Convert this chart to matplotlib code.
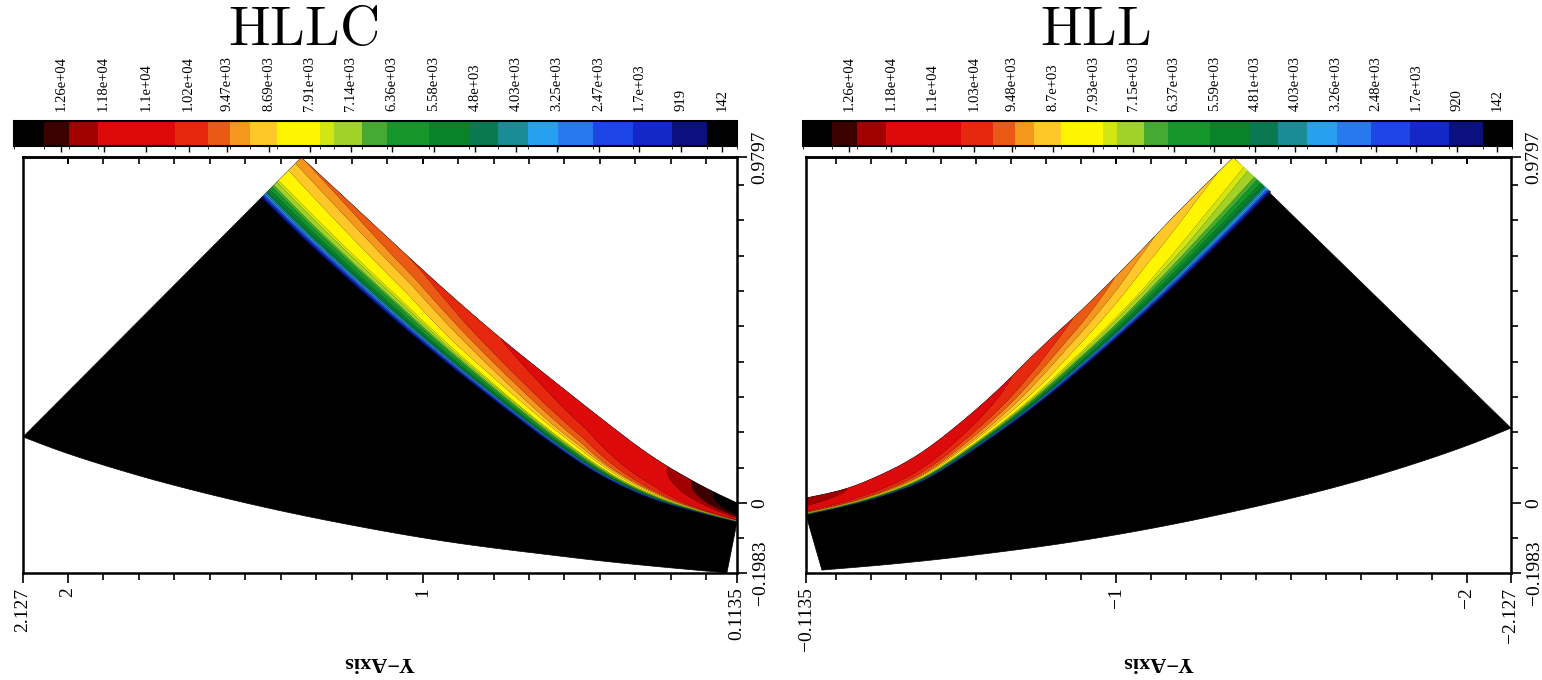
import numpy as np
import matplotlib.pyplot as plt
from matplotlib.colors import ListedColormap, BoundaryNorm
from matplotlib.cm import ScalarMappable

plt.rcParams['font.family'] = ['Liberation Serif', 'DejaVu Serif']
plt.rcParams['mathtext.fontset'] = 'cm'

# contour band edges (low -> high) and the colour of each band
levels = [-140, 422, 1078, 1827, 2577, 3232, 3795, 4357, 4919, 5668, 6464, 6933,
          7448, 7729, 8525, 9041, 9415, 9837, 10446, 11898, 12460, 12928, 13490]
band_colors = ['#000000', '#0a1080', '#1428c8', '#1e46e6', '#2878f0', '#28a0f0',
               '#1a8c96', '#0a7850', '#0a8228', '#14962a', '#46aa32', '#a0d228',
               '#d2e614', '#fff500', '#ffc828', '#f5961e', '#eb5a14', '#e6280f',
               '#dc0a0a', '#a00000', '#3c0000', '#000000']

cbar_values = [12600, 11800, 11000, 10200, 9470, 8690, 7910, 7140, 6360, 5580,
               4800, 4030, 3250, 2470, 1700, 919, 142]
hllc_cbar_labels = ['1.26e+04', '1.18e+04', '1.1e+04', '1.02e+04', '9.47e+03',
                    '8.69e+03', '7.91e+03', '7.14e+03', '6.36e+03', '5.58e+03',
                    '4.8e+03', '4.03e+03', '3.25e+03', '2.47e+03', '1.7e+03', '919', '142']
hll_cbar_labels = ['1.26e+04', '1.18e+04', '1.1e+04', '1.03e+04', '9.48e+03',
                   '8.7e+03', '7.93e+03', '7.15e+03', '6.37e+03', '5.59e+03',
                   '4.81e+03', '4.03e+03', '3.26e+03', '2.48e+03', '1.7e+03', '920', '142']

# HLLC geometry (data units): hot wall edge, inner edge of the layer, far boundary
hllc_wall_x = [1.342, 1.201, 1.059, 0.917, 0.776, 0.634, 0.492, 0.351, 0.209, 0.1135]
hllc_wall_y = [0.978, 0.847, 0.714, 0.584, 0.462, 0.348, 0.235, 0.127, 0.045, 0.0]
hllc_edge_x = [1.456, 1.342, 1.201, 1.059, 0.917, 0.776, 0.634, 0.492, 0.351, 0.209, 0.1135]
hllc_edge_y = [0.864, 0.751, 0.623, 0.499, 0.382, 0.272, 0.164, 0.071, 0.008, -0.031, -0.054]
hllc_far_x = [2.127, 2.023, 1.910, 1.769, 1.628, 1.487, 1.346, 1.205, 1.064, 0.923,
              0.782, 0.641, 0.500, 0.331, 0.142]
hllc_far_y = [0.187, 0.147, 0.110, 0.068, 0.031, -0.003, -0.034, -0.062, -0.088, -0.111,
              -0.130, -0.147, -0.164, -0.181, -0.198]
# value on the wall and profile stretching, along the wall (0 = apex)
hllc_s = [0.0, 0.3, 0.5, 0.7, 0.85, 0.95, 1.0]
hllc_wall_val = [9400, 9900, 10500, 11000, 11800, 12900, 13400]
hllc_stretch = [1.0, 1.1, 1.3, 1.7, 2.4, 3.5, 4.2]

# HLL geometry
hll_wall_x = [-1.334, -1.201, -1.060, -0.918, -0.776, -0.649, -0.507, -0.414, -0.317, -0.224, -0.1135]
hll_wall_y = [0.978, 0.850, 0.703, 0.561, 0.433, 0.306, 0.187, 0.122, 0.074, 0.037, 0.014]
hll_edge_x = [-1.442, -1.329, -1.187, -1.046, -0.904, -0.776, -0.649, -0.507, -0.414, -0.272, -0.1135]
hll_edge_y = [0.881, 0.768, 0.632, 0.504, 0.382, 0.278, 0.187, 0.093, 0.045, 0.0, -0.034]
hll_far_x = [-2.127, -2.023, -1.910, -1.769, -1.628, -1.487, -1.346, -1.205, -1.064, -0.923,
             -0.782, -0.641, -0.500, -0.331, -0.159]
hll_far_y = [0.212, 0.170, 0.130, 0.085, 0.045, 0.010, -0.022, -0.052, -0.079, -0.103,
             -0.124, -0.142, -0.159, -0.176, -0.190]
hll_s = [0.0, 0.25, 0.45, 0.7, 0.9, 1.0]
hll_wall_val = [8400, 9200, 10000, 11000, 11800, 12200]
hll_stretch = [1.0, 1.1, 1.3, 1.8, 2.6, 3.2]

# normalised profile across the layer (0 = wall, 1 = inner edge)
prof_eta = [0.0, 0.15, 0.55, 0.7, 0.82, 0.9, 0.96, 1.0]
prof_g = [1.0, 0.96, 0.83, 0.72, 0.55, 0.38, 0.12, 0.0]

cmap = ListedColormap(band_colors)
norm = BoundaryNorm(levels, cmap.N)


def smooth(x, y, passes=2):
    # corner cutting, keeps both end points
    x, y = np.asarray(x, float), np.asarray(y, float)
    for _ in range(passes):
        qx = 0.75 * x[:-1] + 0.25 * x[1:]
        qy = 0.75 * y[:-1] + 0.25 * y[1:]
        rx = 0.25 * x[:-1] + 0.75 * x[1:]
        ry = 0.25 * y[:-1] + 0.75 * y[1:]
        x = np.concatenate([[x[0]], np.column_stack([qx, rx]).ravel()[1:-1], [x[-1]]])
        y = np.concatenate([[y[0]], np.column_stack([qy, ry]).ravel()[1:-1], [y[-1]]])
    return x, y


def resample(x, y, n):
    x, y = smooth(x, y)
    d = np.hypot(np.diff(x), np.diff(y))
    t = np.concatenate([[0], np.cumsum(d)]) / d.sum()
    u = np.linspace(0, 1, n)
    return np.interp(u, t, x), np.interp(u, t, y)


def panel(ax, cax, wall_x, wall_y, edge_x, edge_y, far_x, far_y, s_pts, wall_val, stretch):
    ns, ne = 400, 140
    wx, wy = resample(wall_x, wall_y, ns)
    ex, ey = resample(edge_x, edge_y, ns)
    fx, fy = resample(far_x, far_y, 200)

    # black domain
    px = np.concatenate([[fx[0]], wx, [ex[-1]], fx[::-1]])
    py = np.concatenate([[fy[0]], wy, [ey[-1]], fy[::-1]])
    ax.fill(px, py, color='black', lw=0.5, zorder=1)

    # shock layer
    s = np.linspace(0, 1, ns)
    eta = np.linspace(0, 1, ne)
    X = wx[:, None] + eta[None, :] * (ex - wx)[:, None]
    Y = wy[:, None] + eta[None, :] * (ey - wy)[:, None]
    tw = np.interp(s, s_pts, wall_val)
    a = np.interp(s, s_pts, stretch)
    g = np.interp(eta[None, :] ** a[:, None], prof_eta, prof_g)
    Z = 142 + (tw[:, None] - 142) * g
    ax.contourf(X, Y, Z, levels=levels, colors=band_colors, zorder=2, antialiased=True)

    # colour bar
    cb = plt.colorbar(ScalarMappable(norm=norm, cmap=cmap), cax=cax,
                      orientation='horizontal', spacing='proportional')
    cax.invert_xaxis()
    cb.outline.set_linewidth(1.5)
    return cb


fig = plt.figure(figsize=(15.42, 6.8), dpi=100)
W, H = 1542, 680


def frac(x0, y0, x1, y1):
    return [x0 / W, 1 - y1 / H, (x1 - x0) / W, (y1 - y0) / H]


panels = [
    dict(title=r'$\mathrm{HLLC}$', tx=303, lx=379, ax=frac(23, 157, 737, 573), cax=frac(14, 121, 737, 146),
         wall=(hllc_wall_x, hllc_wall_y), edge=(hllc_edge_x, hllc_edge_y), far=(hllc_far_x, hllc_far_y),
         s=hllc_s, val=hllc_wall_val, st=hllc_stretch, labels=hllc_cbar_labels,
         xlim=(2.127, 0.1135), xt=[2.127, 2, 1, 0.1135], xtl=['2.127', '2', '1', '0.1135']),
    dict(title=r'$\mathrm{HLL}$', tx=1095, lx=1158, ax=frac(806, 157, 1511, 573), cax=frac(803, 121, 1512, 146),
         wall=(hll_wall_x, hll_wall_y), edge=(hll_edge_x, hll_edge_y), far=(hll_far_x, hll_far_y),
         s=hll_s, val=hll_wall_val, st=hll_stretch, labels=hll_cbar_labels,
         xlim=(-0.1135, -2.127), xt=[-0.1135, -1, -2, -2.127],
         xtl=['\u22120.1135', '\u22121', '\u22122', '\u22122.127']),
]

for p in panels:
    ax = fig.add_axes(p['ax'])
    cax = fig.add_axes(p['cax'])
    panel(ax, cax, *p['wall'], *p['edge'], *p['far'], p['s'], p['val'], p['st'])

    cax.set_xticks(cbar_values)
    cax.set_xticklabels(p['labels'], rotation=90, fontsize=10.5)
    cax.tick_params(axis='x', top=False, bottom=True, labeltop=True, labelbottom=False,
                    direction='out', length=4, width=1, pad=3)

    ax.set_xlim(*p['xlim'])
    ax.set_ylim(-0.1983, 0.9797)
    sign = 1 if p['xlim'][0] > 0 else -1
    minor_x = [sign * round(0.2 + 0.1 * k, 1) for k in range(19)]
    ax.set_xticks(p['xt'])
    ax.set_xticklabels(p['xtl'], rotation=90, fontsize=14)
    ax.set_xticks(minor_x, minor=True)
    ax.yaxis.tick_right()
    ax.set_yticks([0.9797, 0, -0.1983])
    ax.set_yticklabels(['0.9797', '0', '\u22120.1983'], rotation=90, va='center', fontsize=14)
    ax.set_yticks([round(-0.1 + 0.1 * k, 1) for k in range(11) if k != 1], minor=True)
    ax.tick_params(which='both', direction='out', width=1.2, color='black')
    ax.tick_params(which='major', length=7)
    ax.tick_params(which='minor', length=5)
    ax.tick_params(axis='y', which='both', left=False, right=True)
    ax.tick_params(axis='x', which='both', top=False, bottom=True)
    for sp in ax.spines.values():
        sp.set_linewidth(1.8)

    # inward ticks along the top edge
    top = ax.secondary_xaxis('top')
    top.set_xticks(p['xt'][1:-1] + minor_x)
    top.set_xticklabels([])
    top.tick_params(direction='in', length=5, width=1.2)
    top.spines['top'].set_linewidth(1.8)

    fig.text(p['lx'] / W, 1 - 662 / H, 'Y\u2212Axis', rotation=180, fontsize=16,
             fontweight='bold', ha='center', va='center')
    fig.text(p['tx'] / W, 1 - 31 / H, p['title'], fontsize=40, ha='center', va='center')

fig.savefig('out.png', dpi=100)
